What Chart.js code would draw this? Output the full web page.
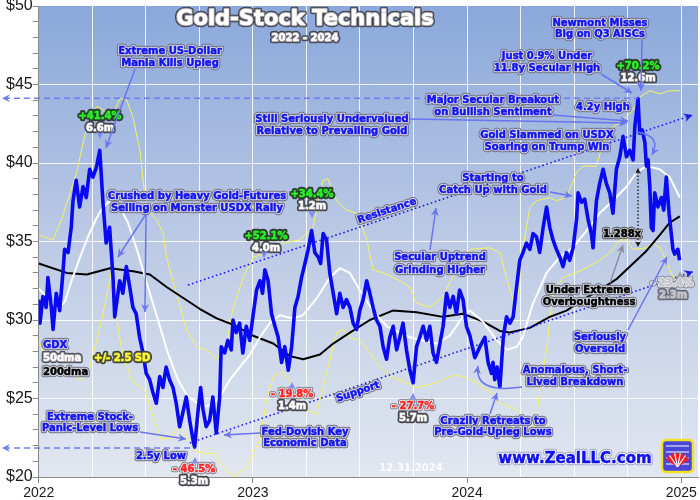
<!DOCTYPE html>
<html>
<head>
<meta charset="utf-8">
<script src="https://cdn.jsdelivr.net/npm/chart.js@4.4.1/dist/chart.umd.min.js"></script>
<style>
  html, body { margin: 0; padding: 0; background: #fff; }
  #wrap { width: 700px; height: 500px; }
</style>
</head>
<body>
<div id="wrap"><canvas id="gdx-chart"></canvas></div>
<script>
// years after 2022.0
const gdxT = [0.000,0.006,0.020,0.035,0.043,0.059,0.067,0.082,0.098,0.113,0.121,0.137,0.152,0.160,0.175,0.191,0.207,0.222,0.238,0.253,0.269,0.285,0.300,0.315,0.331,0.339,0.347,0.355,0.370,0.378,0.393,0.409,0.425,0.440,0.455,0.471,0.487,0.502,0.518,0.533,0.549,0.565,0.580,0.595,0.611,0.627,0.642,0.658,0.673,0.689,0.705,0.720,0.728,0.743,0.756,0.767,0.782,0.798,0.813,0.829,0.845,0.852,0.868,0.883,0.899,0.907,0.922,0.938,0.953,0.969,0.985,
  1.001,1.017,1.033,1.045,1.056,1.071,1.087,1.103,1.118,1.134,1.149,1.165,1.181,1.196,1.211,1.227,1.243,1.258,1.274,1.289,1.305,1.316,1.328,1.344,1.359,1.375,1.391,1.406,1.421,1.437,1.453,1.468,1.484,1.499,1.515,1.531,1.546,1.561,1.577,1.593,1.608,1.624,1.639,1.655,1.671,1.686,1.701,1.717,1.733,1.748,1.764,1.779,1.795,1.811,1.826,1.841,1.857,1.873,1.888,1.904,1.919,1.935,1.950,1.965,1.981,1.997,
  2.013,2.036,2.060,2.083,2.098,2.114,2.121,2.129,2.140,2.153,2.169,2.184,2.200,2.215,2.231,2.246,2.261,2.277,2.293,2.308,2.324,2.339,2.355,2.371,2.386,2.401,2.417,2.433,2.448,2.464,2.479,2.495,2.511,2.518,2.534,2.549,2.565,2.580,2.588,2.604,2.619,2.635,2.650,2.666,2.681,2.697,2.713,2.728,2.744,2.759,2.775,2.783,2.798,2.806,2.818,2.830,2.837,2.845,2.853,2.860,2.868,2.876,2.891,2.907,2.918,2.930,2.943,2.961,2.969,2.984,2.992];
const gdxClose = [31.3,29.8,31.5,30.8,32.7,30.8,29.4,31.7,30.6,33.0,34.5,34.3,35.9,37.6,38.9,37.2,38.5,37.8,39.6,39.1,39.7,40.8,37.5,34.9,35.9,34.3,32.7,30.2,31.7,32.5,31.7,33.4,32.1,30.8,30.4,28.9,27.9,26.6,26.2,25.4,24.7,26.4,25.7,27.0,26.2,25.7,24.7,23.2,24.1,25.1,23.6,22.4,21.9,24.1,25.7,24.3,23.2,23.6,25.1,22.8,25.1,28.3,27.9,28.7,28.1,30.0,29.2,29.8,27.9,29.6,28.7,
  30.3,31.9,32.5,31.7,33.2,32.5,30.4,29.6,28.9,27.3,28.3,26.8,28.3,30.8,31.5,32.7,33.6,34.5,35.7,34.3,34.0,33.6,35.5,35.1,33.0,31.7,30.4,31.7,30.8,31.3,30.8,29.8,29.4,30.6,31.3,32.5,31.7,30.8,30.0,29.6,28.3,27.5,28.9,29.6,28.1,28.9,29.8,28.1,26.8,26.0,28.3,28.9,29.6,28.7,29.6,27.9,27.3,28.5,29.6,31.7,30.8,31.5,30.4,31.9,31.3,29.6,
  29.0,27.6,28.3,28.9,27.3,26.6,27.3,26.2,27.0,25.7,28.9,30.2,29.8,30.2,32.1,33.8,34.3,34.9,34.5,35.5,35.3,34.3,35.9,37.2,35.9,35.1,34.5,34.0,33.4,34.3,33.8,34.6,36.4,38.1,37.5,37.7,36.4,35.5,34.6,37.6,38.7,39.6,38.7,38.1,36.8,39.6,40.4,41.7,40.4,40.8,40.2,42.3,44.1,41.9,42.1,41.3,39.8,40.2,38.5,35.9,35.7,38.1,37.2,37.8,37.0,39.1,36.8,34.5,34.2,34.5,33.8];

const ma50T = [0.000,0.043,0.090,0.123,0.151,0.193,0.230,0.267,0.291,0.323,0.370,0.417,0.463,0.510,0.557,0.603,0.650,0.697,0.743,0.776,0.809,0.846,0.893,0.939,0.986,1.033,1.079,1.126,1.187,1.233,1.299,1.359,1.406,1.453,1.499,1.560,1.625,1.686,1.733,1.793,1.859,1.919,1.980,2.013,2.074,2.139,2.185,2.232,2.260,2.306,2.371,2.432,2.493,2.558,2.619,2.680,2.745,2.791,2.838,2.899,2.946,2.993];
const ma50Vals = [32.0,31.4,30.7,31.2,32.4,34.0,35.3,36.4,37.0,37.5,37.4,36.2,34.3,32.1,30.0,27.9,26.2,25.1,24.7,24.5,24.6,25.1,26.2,27.0,27.8,28.9,29.8,30.3,30.1,30.3,31.4,32.7,33.3,33.0,31.9,30.6,29.6,29.2,28.9,28.7,28.5,29.0,30.2,30.6,29.9,28.7,28.1,28.3,28.9,31.0,33.0,34.0,34.6,35.7,36.8,37.6,38.5,39.4,39.8,39.6,39.1,37.8];

const ma200T = [0.000,0.131,0.224,0.333,0.441,0.519,0.597,0.675,0.753,0.831,0.908,1.001,1.095,1.173,1.235,1.313,1.375,1.453,1.546,1.653,1.764,1.887,1.981,2.075,2.153,2.200,2.293,2.386,2.464,2.541,2.619,2.697,2.775,2.837,2.899,2.946,2.993];
const ma200Vals = [33.6,33.0,32.9,33.3,33.1,32.9,32.1,31.4,30.7,30.1,29.7,29.0,28.5,27.7,27.5,27.8,28.5,29.2,30.0,30.6,30.5,30.2,30.4,29.9,29.3,29.2,29.5,30.2,30.6,31.3,31.9,32.6,33.6,34.4,35.4,36.2,36.6];

const upperT = [0.000,0.067,0.109,0.177,0.224,0.271,0.300,0.333,0.379,0.411,0.440,0.473,0.487,0.504,0.551,0.581,0.597,0.628,0.691,0.737,0.784,0.831,0.877,0.908,0.955,1.001,1.064,1.141,1.219,1.280,1.327,1.350,1.391,1.437,1.484,1.531,1.561,1.608,1.686,1.733,1.764,1.826,1.888,1.919,1.966,2.013,2.106,2.153,2.184,2.215,2.237,2.261,2.293,2.324,2.386,2.417,2.464,2.511,2.541,2.604,2.635,2.681,2.728,2.775,2.806,2.853,2.899,2.946,2.993];
const upperVals = [35.4,35.1,36.5,39.4,42.3,43.6,43.4,42.7,44.1,44.0,42.9,40.8,38.9,37.0,36.4,35.5,34.0,32.4,29.4,28.3,28.1,27.5,28.5,30.8,32.7,34.0,34.3,34.9,35.1,35.9,38.9,39.0,37.6,37.0,36.8,35.2,33.2,33.0,32.5,32.1,31.1,30.8,31.5,32.4,33.5,34.5,34.6,34.3,32.7,31.3,31.5,34.6,37.2,37.6,37.8,37.6,37.8,39.4,39.8,39.8,41.3,42.3,42.7,43.4,44.2,44.6,44.4,44.6,44.6];

const lowerT = [0.000,0.029,0.076,0.131,0.193,0.239,0.286,0.317,0.337,0.355,0.385,0.432,0.495,0.541,0.572,0.619,0.650,0.681,0.728,0.775,0.821,0.868,0.908,0.971,1.033,1.064,1.095,1.141,1.188,1.251,1.297,1.344,1.391,1.421,1.453,1.499,1.546,1.577,1.639,1.686,1.764,1.857,1.904,1.950,1.997,2.044,2.121,2.153,2.231,2.261,2.301,2.324,2.339,2.371,2.386,2.401,2.448,2.541,2.619,2.666,2.713,2.744,2.775,2.837,2.868,2.899,2.930,2.961,2.993];
const lowerVals = [28.6,27.8,27.5,27.3,26.1,27.0,29.5,31.5,33.0,31.0,28.3,26.2,25.5,23.6,22.4,22.5,23.2,22.8,21.7,21.5,21.5,20.6,20.0,20.6,22.4,24.9,26.4,26.7,25.8,24.3,24.0,26.6,29.2,29.4,28.9,28.7,27.9,27.3,26.4,26.2,25.7,26.0,26.3,26.5,26.3,26.0,25.3,24.7,24.3,23.8,22.5,23.8,25.5,28.1,30.0,31.7,32.7,33.2,33.8,34.3,35.1,35.1,34.5,34.6,34.9,34.6,33.8,32.7,32.4];

const yearTicks = [2022, 2023, 2024, 2025];
const secularHigh = 44.12;   // 4.2y high reference
const lowRef = 21.85;        // 2.5y low reference
const resistance = [[2022.697, 32.23], [2025.053, 43.06]];
const support = [[2022.706, 22.17], [2025.055, 33.08]];

const BASE = 2022;
const pts = (ts, vs) => ts.map((t, i) => ({ x: BASE + t, y: vs[i] }));

const NOTE_FONT = 'bold 10px "DejaVu Sans"';

function outlined(ctx, str, x, y, opts) {
  const o = Object.assign({ fill: '#1414f0', halo: '#d9dbe6', edge: '#70707c', font: NOTE_FONT, align: 'center' }, opts);
  ctx.font = o.font;
  ctx.textAlign = o.align;
  ctx.textBaseline = 'middle';
  ctx.lineJoin = 'round';
  if (o.edge) { ctx.strokeStyle = o.edge; ctx.lineWidth = 4.5; ctx.strokeText(str, x, y); }
  if (o.halo) { ctx.strokeStyle = o.halo; ctx.lineWidth = 2.5; ctx.strokeText(str, x, y); }
  ctx.fillStyle = o.fill;
  ctx.fillText(str, x, y);
  // a hair of extra weight, the original lettering is heavy
  ctx.strokeStyle = o.fill; ctx.lineWidth = 0.5; ctx.strokeText(str, x, y);
}

function head(ctx, x, y, ang, size, color) {
  ctx.save();
  ctx.translate(x, y);
  ctx.rotate(ang);
  ctx.beginPath();
  ctx.moveTo(0, 0);
  ctx.lineTo(-size, -size * 0.5);
  ctx.lineTo(-size * 0.65, 0);
  ctx.lineTo(-size, size * 0.5);
  ctx.closePath();
  ctx.fillStyle = color;
  ctx.fill();
  ctx.restore();
}

function arrow(ctx, x1, y1, x2, y2, color, w) {
  ctx.save();
  ctx.strokeStyle = color;
  ctx.lineWidth = w || 1.5;
  ctx.beginPath();
  ctx.moveTo(x1, y1);
  ctx.lineTo(x2, y2);
  ctx.stroke();
  head(ctx, x2, y2, Math.atan2(y2 - y1, x2 - x1), 8, color);
  ctx.restore();
}

function curved(ctx, x1, y1, cx, cy, x2, y2, color) {
  ctx.save();
  ctx.strokeStyle = color;
  ctx.lineWidth = 1.5;
  ctx.beginPath();
  ctx.moveTo(x1, y1);
  ctx.quadraticCurveTo(cx, cy, x2, y2);
  ctx.stroke();
  head(ctx, x2, y2, Math.atan2(y2 - cy, x2 - cx), 8, color);
  ctx.restore();
}

const ARROW = '#6a74ee';

const backdrop = {
  id: 'backdrop',
  beforeDraw(chart) {
    const { ctx, chartArea: a } = chart;
    const g = ctx.createLinearGradient(0, a.top, 0, a.bottom);
    g.addColorStop(0, '#8aa8db');
    g.addColorStop(0.5, '#bccae5');
    g.addColorStop(1, '#e2e7f0');
    ctx.save();
    ctx.fillStyle = g;
    ctx.fillRect(a.left, a.top, a.right - a.left, a.bottom - a.top);
    ctx.restore();
  }
};

const notes = {
  id: 'notes',
  afterDraw(chart) {
    const { ctx } = chart;
    const xs = chart.scales.x, ys = chart.scales.y;
    const px = v => xs.getPixelForValue(v), py = v => ys.getPixelForValue(v);
    ctx.save();

    // dashed reference levels
    ctx.strokeStyle = '#6f7df0';
    ctx.lineWidth = 1.5;
    ctx.setLineDash([6, 4]);
    const peakX = px(BASE + 2.798), lowX = px(BASE + 0.728);
    ctx.beginPath();
    ctx.moveTo(4, py(secularHigh)); ctx.lineTo(peakX, py(secularHigh));
    ctx.moveTo(4, py(lowRef)); ctx.lineTo(lowX, py(lowRef));
    ctx.stroke();
    ctx.setLineDash([]);
    head(ctx, 2, py(secularHigh), Math.PI, 8, '#6f7df0');
    head(ctx, 2, py(lowRef), Math.PI, 8, '#6f7df0');

    // trend channel
    ctx.strokeStyle = '#1c1ce8';
    ctx.lineWidth = 1.6;
    ctx.setLineDash([1.6, 2.6]);
    [resistance, support].forEach(l => {
      ctx.beginPath();
      ctx.moveTo(px(l[0][0]), py(l[0][1]));
      ctx.lineTo(px(l[1][0]), py(l[1][1]));
      ctx.stroke();
    });
    ctx.setLineDash([]);
    [resistance, support].forEach(l => {
      const x1 = px(l[0][0]), y1 = py(l[0][1]), x2 = px(l[1][0]), y2 = py(l[1][1]);
      head(ctx, x2, y2, Math.atan2(y2 - y1, x2 - x1), 9, '#1c1ce8');
    });

    // rotated channel labels
    const ang = Math.atan2(py(resistance[1][1]) - py(resistance[0][1]), px(resistance[1][0]) - px(resistance[0][0]));
    [['Resistance', 387, 211], ['Support', 358, 392]].forEach(([s, x, y]) => {
      ctx.save(); ctx.translate(x, y); ctx.rotate(ang);
      outlined(ctx, s, 0, 0, {});
      ctx.restore();
    });

    // title
    outlined(ctx, 'Gold-Stock Technicals', 305, 20, { font: 'bold 21px "DejaVu Sans"', fill: '#ffffff', halo: '#9a9aa0', edge: '#3c3c44' });
    outlined(ctx, '2022 - 2024', 305, 38, { fill: '#ffffff', halo: '#8a8a90', edge: '#3c3c44' });

    // blue comments
    const blue = [
      ['Extreme US-Dollar', 170, 51], ['Mania Kills Upleg', 170, 63],
      ['Crushed by Heavy Gold-Futures', 197, 196], ['Selling on Monster USDX Rally', 197, 208],
      ['Still Seriously Undervalued', 332, 119], ['Relative to Prevailing Gold', 332, 131],
      ['Major Secular Breakout', 493, 100], ['on Bullish Sentiment', 493, 112],
      ['Newmont Misses', 600, 23], ['Big on Q3 AISCs', 600, 34],
      ['Just 0.9% Under', 547, 56], ['11.8y Secular High', 547, 68],
      ['4.2y High', 603, 107],
      ['Gold Slammed on USDX', 547, 135], ['Soaring on Trump Win', 547, 147],
      ['Starting to', 493, 178], ['Catch Up with Gold', 493, 190],
      ['Secular Uptrend', 440, 257], ['Grinding Higher', 440, 270],
      ['Seriously', 600, 337], ['Oversold', 600, 349],
      ['Anomalous, Short-', 575, 370], ['Lived Breakdown', 575, 382],
      ['Crazily Retreats to', 493, 421], ['Pre-Gold-Upleg Lows', 493, 432],
      ['Extreme Stock-', 90, 417], ['Panic-Level Lows', 90, 428],
      ['Fed-Dovish Key', 305, 432], ['Economic Data', 305, 443],
      ['2.5y Low', 161, 456]
    ];
    blue.forEach(([s, x, y]) => outlined(ctx, s, x, y, {}));
    outlined(ctx, 'Under Extreme', 588, 290, { fill: '#000000' });
    outlined(ctx, 'Overboughtness', 589, 302, { fill: '#000000' });

    // legend labels
    outlined(ctx, 'GDX', 43, 345, { align: 'left' });
    outlined(ctx, '50dma', 43, 358, { align: 'left', fill: '#ffffff', halo: '#8a8a92', edge: '#45454c' });
    outlined(ctx, '+/- 2.5 SD', 94, 358, { align: 'left', fill: '#ffff30', halo: '#6a6a40', edge: '#3a3a30' });
    outlined(ctx, '200dma', 43, 372, { align: 'left', fill: '#000000' });

    // gains / losses
    const green = { fill: '#2ef02e', halo: '#1f4f1f', edge: '#3a3a3a' };
    const white = { fill: '#ffffff', halo: '#6c6c72', edge: '#3c3c44' };
    const red = { fill: '#ff2424', halo: '#e6e6ec', edge: '#80808a' };
    [['+41.4%', '6.6m', 100, 116], ['+52.1%', '4.0m', 266, 236], ['+34.4%', '1.2m', 312, 194], ['+70.2%', '12.6m', 638, 66]]
      .forEach(([a1, b1, x, y]) => { outlined(ctx, a1, x, y, green); outlined(ctx, b1, x, y + 12, white); });
    [['- 46.5%', '5.3m', 194, 469], ['- 19.8%', '1.4m', 292, 394], ['- 27.7%', '5.7m', 413, 406]]
      .forEach(([a1, b1, x, y]) => { outlined(ctx, a1, x, y, red); outlined(ctx, b1, x, y + 12, white); });
    outlined(ctx, '- 23.4%', 672, 283, { fill: '#c4c4cc', halo: '#e4e4ea', edge: '#8a8a94' });
    outlined(ctx, '2.3m', 673, 295, { fill: '#c4c4cc', halo: '#8a8a94', edge: '#60606a' });

    // little pointer marks
    [[100, 139], [264, 258], [312, 218], [640, 89]].forEach(([x, y]) => head(ctx, x, y, Math.PI / 2, 8, '#7d88f2'));
    [[195, 457], [292, 382], [413, 393]].forEach(([x, y]) => head(ctx, x, y, -Math.PI / 2, 8, '#7d88f2'));
    head(ctx, 680, 271, -Math.PI / 2, 8, '#9a9aa6');

    // comment arrows
    arrow(ctx, 135, 69, 106, 148, ARROW);
    arrow(ctx, 146, 214, 118, 257, ARROW);
    arrow(ctx, 146, 214, 145, 312, ARROW);
    arrow(ctx, 410, 119, 627, 123, ARROW);
    arrow(ctx, 553, 115, 628, 121, ARROW);
    arrow(ctx, 642, 40, 641, 91, ARROW);
    arrow(ctx, 601, 74, 632, 93, ARROW);
    curved(ctx, 637, 132, 662, 136, 652, 155, ARROW);
    arrow(ctx, 550, 192, 572, 196, ARROW);
    arrow(ctx, 430, 250, 436, 208, ARROW);
    arrow(ctx, 610, 283, 623, 245, '#8c8c96', 1.3);
    arrow(ctx, 628, 330, 667, 257, ARROW);
    curved(ctx, 522, 387, 474, 394, 478, 366, ARROW);
    arrow(ctx, 490, 414, 497, 393, ARROW);
    arrow(ctx, 140, 432, 186, 439, ARROW);
    arrow(ctx, 260, 433, 224, 435, ARROW);

    // 1.288x spread between price peak and 200dma
    ctx.strokeStyle = '#111';
    ctx.lineWidth = 1.3;
    ctx.setLineDash([1.5, 2]);
    ctx.beginPath(); ctx.moveTo(638, 172); ctx.lineTo(638, 243); ctx.stroke();
    ctx.setLineDash([]);
    head(ctx, 638, 168, -Math.PI / 2, 6, '#111');
    head(ctx, 638, 247, Math.PI / 2, 6, '#111');
    outlined(ctx, '1.288x', 622, 234, { fill: '#000', halo: '#c4c4c8', edge: '#55555c' });

    // date stamp, site, logo
    ctx.font = 'bold 10px "DejaVu Sans"';
    ctx.textAlign = 'center'; ctx.textBaseline = 'middle';
    ctx.fillStyle = 'rgba(255,255,255,0.85)';
    ctx.fillText('12.31.2024', 411, 468);
    outlined(ctx, 'www.ZealLLC.com', 575, 459, { font: 'bold 15px "DejaVu Sans"', fill: '#1212ee', halo: '#ffffff', edge: '#9da6c8' });

    const lx = 662, ly = 440, lw = 31, lh = 32;
    ctx.fillStyle = '#4a46d8';
    ctx.strokeStyle = '#f2e224';
    ctx.lineWidth = 2.5;
    ctx.beginPath(); ctx.roundRect(lx, ly, lw, lh, 4); ctx.fill(); ctx.stroke();
    ctx.strokeStyle = '#ffffff'; ctx.lineWidth = 1;
    for (let i = 0; i < 4; i++) {
      ctx.beginPath(); ctx.moveTo(lx + 4, ly + 6 + i * 6); ctx.lineTo(lx + lw - 4, ly + 6 + i * 6); ctx.stroke();
    }
    ctx.fillStyle = '#e8202a';
    ctx.beginPath();
    ctx.moveTo(lx + lw / 2, ly + lh - 5);
    ctx.arc(lx + lw / 2, ly + lh - 5, 14, -Math.PI * 0.82, -Math.PI * 0.18);
    ctx.closePath(); ctx.fill();
    ctx.strokeStyle = '#ffffff'; ctx.lineWidth = 1.2;
    for (let k = 1; k < 5; k++) {
      const t = -Math.PI * (0.82 - k * 0.128);
      ctx.beginPath(); ctx.moveTo(lx + lw / 2, ly + lh - 5);
      ctx.lineTo(lx + lw / 2 + 14 * Math.cos(t), ly + lh - 5 + 14 * Math.sin(t)); ctx.stroke();
    }
    ctx.restore();
  }
};

const lineSet = (label, ts, vs, color, width) => ({
  label, data: pts(ts, vs), borderColor: color, borderWidth: width,
  pointRadius: 0, tension: 0, fill: false, borderJoinStyle: 'round'
});

Chart.defaults.font.family = '"Liberation Sans", Arial, sans-serif';

new Chart(document.getElementById('gdx-chart'), {
  type: 'line',
  data: {
    datasets: [
      lineSet('GDX', gdxT, gdxClose, '#0a0af2', 3.6),
      lineSet('50dma', ma50T, ma50Vals, '#ffffff', 2),
      lineSet('200dma', ma200T, ma200Vals, '#000000', 2),
      lineSet('+2.5 SD', upperT, upperVals, '#f4f45a', 1),
      lineSet('-2.5 SD', lowerT, lowerVals, '#f4f45a', 1)
    ]
  },
  options: {
    responsive: true,
    maintainAspectRatio: false,
    animation: false,
    events: [],
    layout: { padding: { top: 6, right: 2, left: 0, bottom: 0 } },
    plugins: { legend: { display: false }, tooltip: { enabled: false } },
    scales: {
      x: {
        type: 'linear',
        min: 2022,
        max: 2025.078,
        afterFit: s => { s.height = 23; s.paddingLeft = 0; s.paddingRight = 0; },
        border: { color: '#8a8a8a', width: 1 },
        grid: {
          color: c => (c.tick && Math.abs(c.tick.value * 4 - Math.round(c.tick.value * 4)) < 1e-6) ? 'rgba(255,255,255,0.85)' : 'transparent',
          tickColor: c => (c.tick && yearTicks.includes(Math.round(c.tick.value * 1000) / 1000)) ? '#8a8a8a' : 'transparent',
          tickLength: 6
        },
        ticks: {
          stepSize: 0.25,
          includeBounds: false,
          autoSkip: false,
          maxRotation: 0,
          padding: 2,
          color: '#1a1a1a',
          font: { size: 14 },
          callback: v => yearTicks.includes(Math.round(v * 1000) / 1000) ? String(Math.round(v)) : ''
        }
      },
      y: {
        min: 20,
        max: 50,
        afterFit: s => { s.width = 38.7; s.paddingTop = 0; s.paddingBottom = 0; },
        border: { color: '#8a8a8a', width: 1 },
        grid: {
          color: c => (c.tick && c.tick.value % 5 === 0 && c.tick.value > 20 && c.tick.value < 50) ? 'rgba(255,255,255,0.85)' : 'transparent',
          tickColor: '#8a8a8a',
          tickLength: 6
        },
        ticks: {
          stepSize: 1,
          autoSkip: false,
          padding: 0,
          color: '#1a1a1a',
          font: { size: 16 },
          callback: v => v % 5 === 0 ? '$' + v : ''
        }
      }
    }
  },
  plugins: [backdrop, notes]
});
</script>
</body>
</html>
